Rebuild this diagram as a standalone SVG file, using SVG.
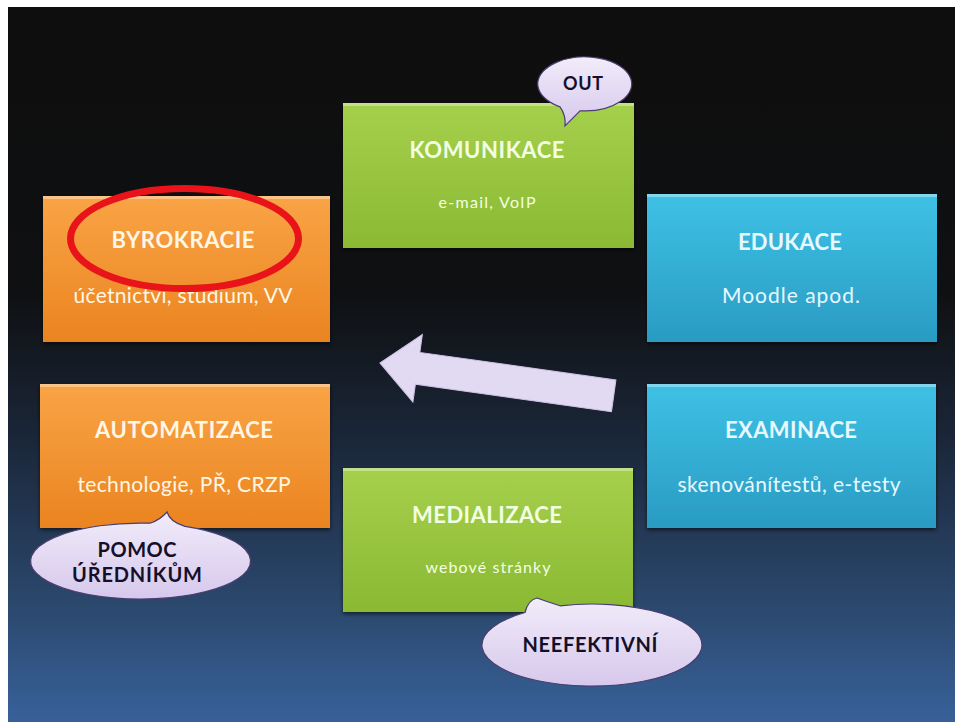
<svg xmlns="http://www.w3.org/2000/svg" width="955" height="722" viewBox="0 0 955 722">
<defs>
<linearGradient id="bg" x1="0" y1="0" x2="0" y2="1">
<stop offset="0" stop-color="#0e0e0e"/>
<stop offset="0.4" stop-color="#0f1012"/>
<stop offset="0.6" stop-color="#1a2638"/>
<stop offset="0.85" stop-color="#2c4a70"/>
<stop offset="1" stop-color="#38619a"/>
</linearGradient>
<linearGradient id="gOr" x1="0" y1="0" x2="0" y2="1">
<stop offset="0" stop-color="#f9a446"/>
<stop offset="1" stop-color="#ea8420"/>
</linearGradient>
<linearGradient id="gGr" x1="0" y1="0" x2="0" y2="1">
<stop offset="0" stop-color="#a5d04c"/>
<stop offset="1" stop-color="#8bb933"/>
</linearGradient>
<linearGradient id="gBl" x1="0" y1="0" x2="0" y2="1">
<stop offset="0" stop-color="#3ec1e5"/>
<stop offset="1" stop-color="#2a9bc3"/>
</linearGradient>
<linearGradient id="gLav" x1="0" y1="0" x2="0" y2="1">
<stop offset="0" stop-color="#f2ecfa"/>
<stop offset="1" stop-color="#d6c8ec"/>
</linearGradient>
<filter id="sh" x="-10%" y="-10%" width="120%" height="130%">
<feGaussianBlur in="SourceAlpha" stdDeviation="2"/>
<feOffset dx="0" dy="2" result="b"/>
<feComponentTransfer><feFuncA type="linear" slope="0.6"/></feComponentTransfer>
<feMerge><feMergeNode/><feMergeNode in="SourceGraphic"/></feMerge>
</filter>
</defs>
<style>
.title{font-family:Lato,"Liberation Sans",sans-serif;font-weight:bold;font-size:22px;text-anchor:middle}
.sub{font-family:Lato,"Liberation Sans",sans-serif;font-size:21px;text-anchor:middle}
.small{font-family:Lato,"Liberation Sans",sans-serif;font-size:16px;text-anchor:middle}
.bub{font-family:Lato,"Liberation Sans",sans-serif;font-weight:bold;font-size:20px;text-anchor:middle;fill:#14102a}
.bubble{fill:url(#gLav);stroke:#4a3d70;stroke-width:1.2}
.or{fill:#fff6e6}
.gr{fill:#f2ffe2}
.bl{fill:#e6f9ff}
.hl{fill:#ffffff;opacity:0.35}
</style>
<rect width="955" height="722" fill="#ffffff"/>
<rect x="8" y="7" width="947" height="715" fill="url(#bg)"/>

<g id="connectors">
<path d="M0,0 L38,-34 L38,-16 L236,-16 L236,16 L38,16 L38,34 Z" transform="translate(380,363) rotate(8)" fill="#e2d9f2" stroke="#cfc2e6" stroke-width="1"/>
</g>

<g id="byrokracie">
<rect x="43" y="196" width="287" height="146" fill="url(#gOr)" filter="url(#sh)"/>
<rect x="43" y="196" width="287" height="3" class="hl"/>
<text x="183" y="248" class="title or" textLength="143">BYROKRACIE</text>
<text x="183" y="303" class="sub or" textLength="219">účetnictví, studium, VV</text>
<ellipse cx="184.5" cy="238.5" rx="114" ry="50" fill="none" stroke="#e8141a" stroke-width="7"/>
</g>

<g id="komunikace">
<rect x="343" y="103" width="291" height="145" fill="url(#gGr)" filter="url(#sh)"/>
<rect x="343" y="103" width="291" height="3" class="hl"/>
<text x="487" y="158" class="title gr" textLength="155">KOMUNIKACE</text>
<text x="487" y="208" class="small gr" textLength="97">e-mail, VoIP</text>
</g>

<g id="edukace">
<rect x="647" y="194" width="290" height="148" fill="url(#gBl)" filter="url(#sh)"/>
<rect x="647" y="194" width="290" height="3" class="hl"/>
<text x="790" y="250" class="title bl" textLength="104">EDUKACE</text>
<text x="791" y="303" class="sub bl" textLength="138">Moodle apod.</text>
</g>

<g id="automatizace">
<rect x="40" y="384" width="290" height="144" fill="url(#gOr)" filter="url(#sh)"/>
<rect x="40" y="384" width="290" height="3" class="hl"/>
<text x="184" y="438" class="title or" textLength="178">AUTOMATIZACE</text>
<text x="184" y="492" class="sub or" textLength="213">technologie, PŘ, CRZP</text>
</g>

<g id="medializace">
<rect x="343" y="468" width="290" height="144" fill="url(#gGr)" filter="url(#sh)"/>
<rect x="343" y="468" width="290" height="3" class="hl"/>
<text x="487" y="523" class="title gr" textLength="150">MEDIALIZACE</text>
<text x="488" y="573" class="small gr" textLength="125">webové stránky</text>
</g>

<g id="examinace">
<rect x="647" y="384" width="289" height="144" fill="url(#gBl)" filter="url(#sh)"/>
<rect x="647" y="384" width="289" height="3" class="hl"/>
<text x="791" y="438" class="title bl" textLength="132">EXAMINACE</text>
<text x="789" y="492" class="sub bl" textLength="223">skenovánítestů, e-testy</text>
</g>

<g id="out">
<path class="bubble" d="M580,110.8 L565,126 Q566,115 560,106.9 A47,27 0 1,1 580,110.8 Z"/>
<text x="583" y="90" class="bub" style="font-size:18px" textLength="40">OUT</text>
</g>

<g id="pomoc">
<path class="bubble" d="M150,523.2 Q160,520 167,512 Q170,522 185,526.3 A110,38 0 1,1 150,523.2 Z"/>
<text x="137" y="557" class="bub" textLength="79">POMOC</text>
<text x="137" y="582" class="bub" textLength="130">ÚŘEDNÍKŮM</text>
</g>

<g id="neefektivni">
<path class="bubble" d="M525,612.5 Q528,600 537,598 Q548,602 560,605.8 A110,41 0 1,1 525,612.5 Z"/>
<text x="590" y="652" class="bub" textLength="135">NEEFEKTIVNÍ</text>
</g>
</svg>
